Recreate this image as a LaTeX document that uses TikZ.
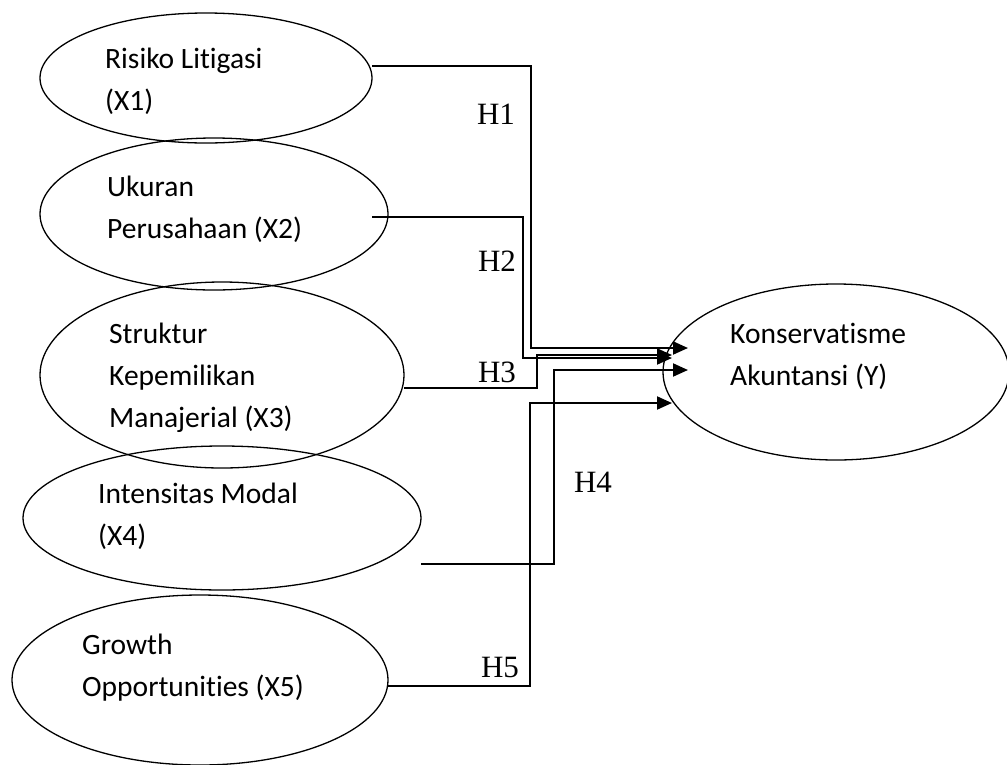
\documentclass[tikz,border=0pt]{standalone}
\usepackage{fontspec}
\setmainfont{Carlito}[Ligatures=NoCommon]
\newfontfamily\hfont{Liberation Serif}
\usetikzlibrary{shapes.geometric,arrows.meta}
\begin{document}
\begin{tikzpicture}[x=1pt,y=-1pt,
  var/.style={draw,ellipse,line width=1.3pt,inner sep=0pt},
  vtext/.style={anchor=west,align=left,inner sep=0pt,font=\fontsize{29.5}{42}\selectfont},
  hlab/.style={inner sep=0pt,font=\hfont\fontsize{31}{31}\selectfont},
  conn/.style={line width=2pt,-{Triangle[length=15pt,width=13pt]}}]
\useasboundingbox (0,0) rectangle (1007,764);
% ellipses
\node[var,minimum width=332pt,minimum height=130pt] (e1) at (206,78) {};
\node[var,minimum width=348pt,minimum height=152pt] (e2) at (214,214) {};
\node[var,minimum width=364pt,minimum height=186pt] (e3) at (222,375) {};
\node[var,minimum width=398pt,minimum height=144pt] (e4) at (222,518) {};
\node[var,minimum width=376pt,minimum height=170pt] (e5) at (200,680) {};
\node[var,minimum width=346pt,minimum height=176pt] (ey) at (836,372) {};
% texts
\node[vtext] (t1) at (105,81) {Risiko Litigasi\\(X1)};
\node[vtext] (t2) at (107,209) {Ukuran\\Perusahaan (X2)};
\node[vtext] (t3) at (109,378) {Struktur\\Kepemilikan\\Manajerial (X3)};
\node[vtext] (t4) at (98,516) {Intensitas Modal\\(X4)};
\node[vtext] (t5) at (82,668) {Growth\\Opportunities (X5)};
\node[vtext] (ty) at (730,356) {Konservatisme\\Akuntansi (Y)};
% connector endpoints
\coordinate (s1) at (372,66);
\coordinate (s2) at (372,217);
\coordinate (s3) at (404,388);
\coordinate (s4) at (421,564);
\coordinate (s5) at (388,686);
\coordinate (p1) at (688,348);
\coordinate (p2) at (672,358);
\coordinate (p3) at (672,355);
\coordinate (p4) at (688,370);
\coordinate (p5) at (672,403);
% connectors
\draw[conn] (s1) -- (531,66) -- (531,348) -- (p1);
\draw[conn] (s2) -- (523,217) -- (523,358) -- (p2);
\draw[conn] (s3) -- (537,388) -- (537,355) -- (p3);
\draw[conn] (s4) -- (554,564) -- (554,370) -- (p4);
\draw[conn] (s5) -- (530,686) -- (530,403) -- (p5);
% labels
\node[hlab] (h1) at (496,114) {H1};
\node[hlab] (h2) at (497,261) {H2};
\node[hlab] (h3) at (497,372) {H3};
\node[hlab] (h4) at (593,482) {H4};
\node[hlab] (h5) at (500,667) {H5};
\end{tikzpicture}
\end{document}
